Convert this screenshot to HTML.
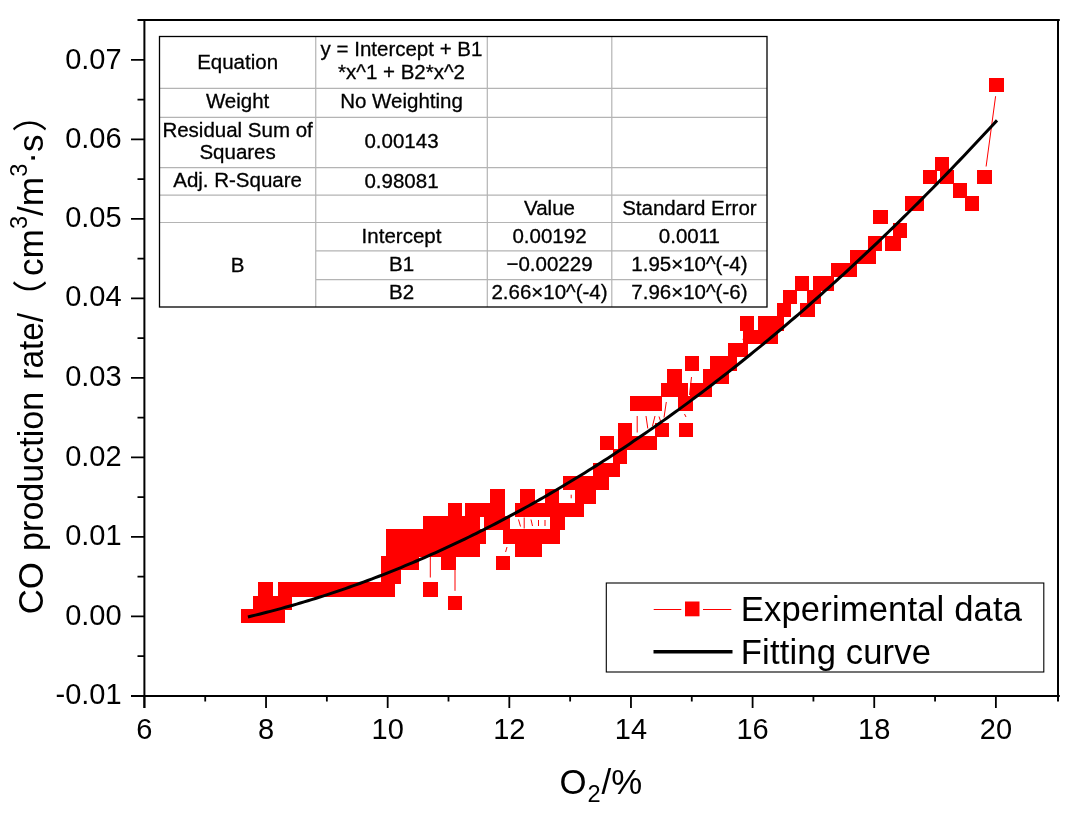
<!DOCTYPE html>
<html lang="en"><head><meta charset="utf-8"><title>CO production rate vs O2</title>
<style>html,body{margin:0;padding:0;background:#fff}svg{display:block}text{font-family:"Liberation Sans","Noto Sans CJK SC",sans-serif;fill:#000}.tk{font-size:29px}.tb{font-size:20.5px;text-anchor:middle;stroke:#000;stroke-width:0.3px}.lg{font-size:34.6px;letter-spacing:0.15px}.ti{font-size:34.8px}</style></head><body>
<svg width="1080" height="818" viewBox="0 0 1080 818">
<rect width="1080" height="818" fill="#fff"/>
<g fill="#ff0000" shape-rendering="crispEdges">
<rect x="240.50" y="608.95" width="44.50" height="14.50"/>
<rect x="253.00" y="595.64" width="38.75" height="14.50"/>
<rect x="447.50" y="595.64" width="14.50" height="14.50"/>
<rect x="258.25" y="582.34" width="14.75" height="14.50"/>
<rect x="277.50" y="582.34" width="117.20" height="14.50"/>
<rect x="423.00" y="582.34" width="14.50" height="14.50"/>
<rect x="380.80" y="569.03" width="20.50" height="14.50"/>
<rect x="380.80" y="555.73" width="38.40" height="14.50"/>
<rect x="440.80" y="555.73" width="15.50" height="14.50"/>
<rect x="495.80" y="555.73" width="14.50" height="14.50"/>
<rect x="386.30" y="542.42" width="93.40" height="14.50"/>
<rect x="515.00" y="542.42" width="26.70" height="14.50"/>
<rect x="386.30" y="529.11" width="100.00" height="14.50"/>
<rect x="502.50" y="529.11" width="57.20" height="14.50"/>
<rect x="423.00" y="515.81" width="57.00" height="14.50"/>
<rect x="483.70" y="515.81" width="26.30" height="14.50"/>
<rect x="550.00" y="515.81" width="15.00" height="14.50"/>
<rect x="447.50" y="502.50" width="14.50" height="14.50"/>
<rect x="465.30" y="502.50" width="39.40" height="14.50"/>
<rect x="515.00" y="502.50" width="69.20" height="14.50"/>
<rect x="490.00" y="489.20" width="14.70" height="14.50"/>
<rect x="520.30" y="489.20" width="14.40" height="14.50"/>
<rect x="545.00" y="489.20" width="14.20" height="14.50"/>
<rect x="575.00" y="489.20" width="21.30" height="14.50"/>
<rect x="563.00" y="475.89" width="45.70" height="14.50"/>
<rect x="593.30" y="462.58" width="26.70" height="14.50"/>
<rect x="612.50" y="449.28" width="14.20" height="14.50"/>
<rect x="600.00" y="435.97" width="14.20" height="14.50"/>
<rect x="618.30" y="435.97" width="38.40" height="14.50"/>
<rect x="618.30" y="422.67" width="13.70" height="14.50"/>
<rect x="655.00" y="422.67" width="14.20" height="14.50"/>
<rect x="678.70" y="422.67" width="14.60" height="14.50"/>
<rect x="630.30" y="396.05" width="31.70" height="14.50"/>
<rect x="678.30" y="396.05" width="15.00" height="14.50"/>
<rect x="660.80" y="382.75" width="26.70" height="14.50"/>
<rect x="690.00" y="382.75" width="21.70" height="14.50"/>
<rect x="667.00" y="369.44" width="14.70" height="14.50"/>
<rect x="703.30" y="369.44" width="25.90" height="14.50"/>
<rect x="685.30" y="356.14" width="13.90" height="14.50"/>
<rect x="710.00" y="356.14" width="26.70" height="14.50"/>
<rect x="727.50" y="342.83" width="20.00" height="14.50"/>
<rect x="743.30" y="329.52" width="35.00" height="14.50"/>
<rect x="740.00" y="316.22" width="14.20" height="14.50"/>
<rect x="757.50" y="316.22" width="26.70" height="14.50"/>
<rect x="776.70" y="302.91" width="14.10" height="14.50"/>
<rect x="800.00" y="302.91" width="14.70" height="14.50"/>
<rect x="782.50" y="289.61" width="14.20" height="14.50"/>
<rect x="806.70" y="289.61" width="14.60" height="14.50"/>
<rect x="794.70" y="276.30" width="14.50" height="14.50"/>
<rect x="812.50" y="276.30" width="21.20" height="14.50"/>
<rect x="830.80" y="262.99" width="26.20" height="14.50"/>
<rect x="849.70" y="249.69" width="26.60" height="14.50"/>
<rect x="867.50" y="236.38" width="14.20" height="14.50"/>
<rect x="885.30" y="236.38" width="15.50" height="14.50"/>
<rect x="892.50" y="223.08" width="14.00" height="14.50"/>
<rect x="873.30" y="209.77" width="15.00" height="14.50"/>
<rect x="904.70" y="196.46" width="19.50" height="14.50"/>
<rect x="965.00" y="196.46" width="14.20" height="14.50"/>
<rect x="952.50" y="183.16" width="14.20" height="14.50"/>
<rect x="922.50" y="169.85" width="14.20" height="14.50"/>
<rect x="940.00" y="169.85" width="14.20" height="14.50"/>
<rect x="977.00" y="169.85" width="14.50" height="14.50"/>
<rect x="935.00" y="156.55" width="14.20" height="14.50"/>
<rect x="989.40" y="77.65" width="14.60" height="14.50"/>
</g>
<path d="M986.1 166.5L995.6 96.2M430.3 556.7V577.5M455 570V590.8M505.6 552L507 547M518.5 519.5L520.5 526.5M524.2 517.5V528.5M531 519.5L532.5 526M538.5 520V526M545 520V526M571.2 494.7V498.3M637.2 416V432.5M646 416L647.8 428.5M655 416L652.5 426M659 416.5L660.5 421M664 417.5L666.3 402M689.5 395L691.5 377M684.5 414L686 417M743 340L745 332.5" stroke="#ff0000" stroke-width="1" fill="none"/>
<polyline points="247.93,616.94 251.68,616.05 255.42,615.14 259.17,614.22 262.91,613.28 266.66,612.32 270.40,611.35 274.15,610.36 277.89,609.36 281.64,608.34 285.38,607.31 289.13,606.25 292.87,605.19 296.62,604.10 300.36,603.01 304.11,601.89 307.86,600.76 311.60,599.61 315.35,598.45 319.09,597.27 322.84,596.07 326.58,594.86 330.33,593.64 334.07,592.39 337.82,591.13 341.56,589.86 345.31,588.57 349.05,587.26 352.80,585.94 356.55,584.60 360.29,583.24 364.04,581.87 367.78,580.49 371.53,579.08 375.27,577.66 379.02,576.23 382.76,574.78 386.51,573.31 390.25,571.83 394.00,570.33 397.74,568.81 401.49,567.28 405.23,565.73 408.98,564.17 412.73,562.59 416.47,561.00 420.22,559.39 423.96,557.76 427.71,556.12 431.45,554.46 435.20,552.78 438.94,551.09 442.69,549.38 446.43,547.66 450.18,545.92 453.92,544.17 457.67,542.40 461.41,540.61 465.16,538.81 468.91,536.99 472.65,535.15 476.40,533.30 480.14,531.43 483.89,529.55 487.63,527.65 491.38,525.74 495.12,523.81 498.87,521.86 502.61,519.90 506.36,517.92 510.10,515.92 513.85,513.91 517.60,511.88 521.34,509.84 525.09,507.78 528.83,505.71 532.58,503.62 536.32,501.51 540.07,499.39 543.81,497.25 547.56,495.09 551.30,492.92 555.05,490.74 558.79,488.53 562.54,486.31 566.28,484.08 570.03,481.83 573.78,479.56 577.52,477.28 581.27,474.98 585.01,472.66 588.76,470.33 592.50,467.99 596.25,465.62 599.99,463.24 603.74,460.85 607.48,458.44 611.23,456.01 614.97,453.57 618.72,451.11 622.47,448.64 626.21,446.14 629.96,443.64 633.70,441.11 637.45,438.58 641.19,436.02 644.94,433.45 648.68,430.86 652.43,428.26 656.17,425.64 659.92,423.01 663.66,420.36 667.41,417.69 671.15,415.01 674.90,412.31 678.65,409.59 682.39,406.86 686.14,404.12 689.88,401.35 693.63,398.57 697.37,395.78 701.12,392.97 704.86,390.14 708.61,387.30 712.35,384.44 716.10,381.56 719.84,378.67 723.59,375.77 727.33,372.84 731.08,369.91 734.83,366.95 738.57,363.98 742.32,360.99 746.06,357.99 749.81,354.97 753.55,351.94 757.30,348.89 761.04,345.82 764.79,342.74 768.53,339.64 772.28,336.52 776.02,333.39 779.77,330.25 783.52,327.08 787.26,323.90 791.01,320.71 794.75,317.50 798.50,314.27 802.24,311.03 805.99,307.77 809.73,304.50 813.48,301.21 817.22,297.90 820.97,294.58 824.71,291.24 828.46,287.88 832.20,284.51 835.95,281.13 839.70,277.72 843.44,274.30 847.19,270.87 850.93,267.42 854.68,263.95 858.42,260.47 862.17,256.97 865.91,253.46 869.66,249.93 873.40,246.38 877.15,242.82 880.89,239.24 884.64,235.64 888.38,232.03 892.13,228.41 895.88,224.76 899.62,221.10 903.37,217.43 907.11,213.74 910.86,210.03 914.60,206.31 918.35,202.57 922.09,198.82 925.84,195.05 929.58,191.26 933.33,187.46 937.07,183.64 940.82,179.80 944.57,175.95 948.31,172.09 952.06,168.20 955.80,164.31 959.55,160.39 963.29,156.46 967.04,152.51 970.78,148.55 974.53,144.57 978.27,140.58 982.02,136.57 985.76,132.54 989.51,128.50 993.25,124.44 997.00,120.37" fill="none" stroke="#000" stroke-width="3" stroke-linecap="butt" stroke-linejoin="round"/>
<g stroke="#000" stroke-width="2" fill="none">
<path d="M144.4 18.9 V708 M137.5 20 H1059.8 M1058 18.9 V701.5 M131 695.9 H1059.8"/>
<path stroke-width="1.8" d="M131 695.90H144.4M137.5 656.15H144.4M131 616.40H144.4M137.5 576.65H144.4M131 536.90H144.4M137.5 497.15H144.4M131 457.40H144.4M137.5 417.65H144.4M131 377.90H144.4M137.5 338.15H144.4M131 298.40H144.4M137.5 258.65H144.4M131 218.90H144.4M137.5 179.15H144.4M131 139.40H144.4M137.5 99.65H144.4M131 59.90H144.4M144.40 695.9V708M266.04 695.9V708M387.68 695.9V708M509.32 695.9V708M630.96 695.9V708M752.60 695.9V708M874.24 695.9V708M995.88 695.9V708M205.22 695.9V701.5M326.86 695.9V701.5M448.50 695.9V701.5M570.14 695.9V701.5M691.78 695.9V701.5M813.42 695.9V701.5M935.06 695.9V701.5"/>
</g>
<text class="tk" x="121.6" y="703.5" text-anchor="end">-0.01</text>
<text class="tk" x="121.6" y="624.8" text-anchor="end">0.00</text>
<text class="tk" x="121.6" y="545.1" text-anchor="end">0.01</text>
<text class="tk" x="121.6" y="465.5" text-anchor="end">0.02</text>
<text class="tk" x="121.6" y="385.8" text-anchor="end">0.03</text>
<text class="tk" x="121.6" y="306.2" text-anchor="end">0.04</text>
<text class="tk" x="121.6" y="226.5" text-anchor="end">0.05</text>
<text class="tk" x="121.6" y="147.7" text-anchor="end">0.06</text>
<text class="tk" x="121.6" y="68.9" text-anchor="end">0.07</text>
<text class="tk" x="144.4" y="738.9" text-anchor="middle">6</text>
<text class="tk" x="266.0" y="738.9" text-anchor="middle">8</text>
<text class="tk" x="387.7" y="738.9" text-anchor="middle">10</text>
<text class="tk" x="509.3" y="738.9" text-anchor="middle">12</text>
<text class="tk" x="631.0" y="738.9" text-anchor="middle">14</text>
<text class="tk" x="752.6" y="738.9" text-anchor="middle">16</text>
<text class="tk" x="874.2" y="738.9" text-anchor="middle">18</text>
<text class="tk" x="995.9" y="738.9" text-anchor="middle">20</text>
<text class="ti" x="560" y="794"><tspan x="559.4">O</tspan><tspan dx="1" dy="8" font-size="23.6px">2</tspan><tspan dx="1" dy="-8">/%</tspan></text>
<text class="ti" transform="translate(42.5 614.3) rotate(-90) scale(1 1)">CO</text>
<text class="ti" transform="translate(42.5 550.9) rotate(-90) scale(0.98 1)">production</text>
<text class="ti" transform="translate(42.5 379.7) rotate(-90) scale(0.958 1)">rate/</text>
<text class="ti" transform="translate(42.5 314.5) rotate(-90) scale(1 1)">（</text>
<text class="ti" transform="translate(42.5 276) rotate(-90) scale(1.011 1)">cm<tspan dy="-16" font-size="23.4px">3</tspan><tspan dy="16">/m</tspan><tspan dy="-16" font-size="23.4px">3</tspan><tspan dy="16">·s</tspan></text>
<text class="ti" transform="translate(42.5 132) rotate(-90) scale(1 1)">）</text>
<rect x="606.3" y="583" width="437.5" height="89" fill="#fff" stroke="#000" stroke-width="1.1"/>
<path d="M653.7 609.5H681.3M703 609.5H731.3" stroke="#ff0000" stroke-width="1.1"/>
<rect x="685" y="601.5" width="14.5" height="14.8" fill="#ff0000"/>
<path d="M653.5 651.7H732.5" stroke="#000" stroke-width="3.4"/>
<text class="lg" x="740.8" y="620.6">Experimental data</text>
<text class="lg" x="740.8" y="664">Fitting curve</text>
<rect x="159.5" y="36.5" width="607.5" height="270.5" fill="#fff"/>
<path d="M315.75 36.5V307M487.3 36.5V307M611.8 36.5V307M159.5 88.3H767M159.5 117.3H767M159.5 167.6H767M159.5 195.1H767M159.5 222.5H767M315.75 250.8H767M315.75 279.7H767" stroke="#b4b4b4" stroke-width="1.2" fill="none"/>
<rect x="159.5" y="36.5" width="607.5" height="270.5" fill="none" stroke="#000" stroke-width="1.3"/>
<text class="tb" x="237.6" y="69">Equation</text>
<text class="tb" x="401.5" y="55.5">y = Intercept + B1</text>
<text class="tb" x="401.5" y="78.7">*x^1 + B2*x^2</text>
<text class="tb" x="237.6" y="108.4">Weight</text>
<text class="tb" x="401.5" y="108.4">No Weighting</text>
<text class="tb" x="237.6" y="136.7">Residual Sum of</text>
<text class="tb" x="237.6" y="159.4">Squares</text>
<text class="tb" x="401.5" y="147.9">0.00143</text>
<text class="tb" x="237.6" y="187.4">Adj. R-Square</text>
<text class="tb" x="401.5" y="187.5">0.98081</text>
<text class="tb" x="549.5" y="215">Value</text>
<text class="tb" x="689.4" y="215">Standard Error</text>
<text class="tb" x="401.5" y="242.6">Intercept</text>
<text class="tb" x="549.5" y="242.6">0.00192</text>
<text class="tb" x="689.4" y="242.6">0.0011</text>
<text class="tb" x="237.6" y="271.5">B</text>
<text class="tb" x="401.5" y="271.1">B1</text>
<text class="tb" x="549.5" y="271.1">−0.00229</text>
<text class="tb" x="689.4" y="271.1">1.95×10^(-4)</text>
<text class="tb" x="401.5" y="299.2">B2</text>
<text class="tb" x="549.5" y="299.2">2.66×10^(-4)</text>
<text class="tb" x="689.4" y="299.2">7.96×10^(-6)</text>
</svg></body></html>
